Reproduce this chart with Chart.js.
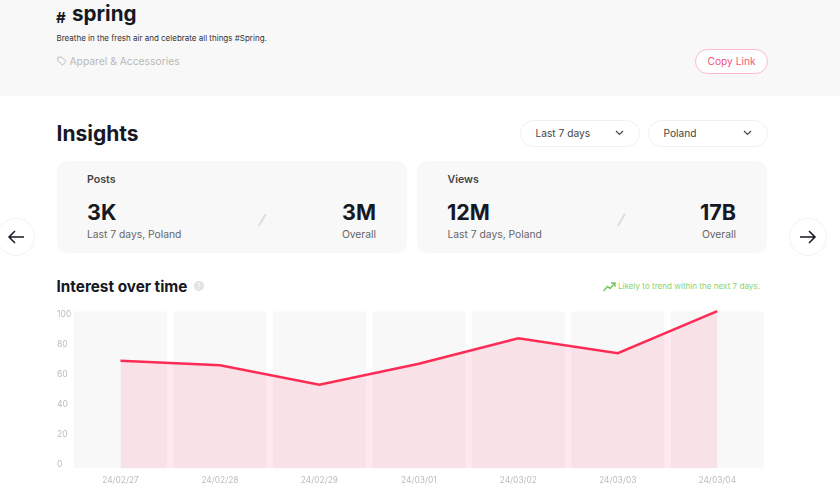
<!DOCTYPE html>
<html>
<head>
<meta charset="utf-8">
<script src="https://cdn.jsdelivr.net/npm/chart.js@4"></script>
<style>
  html, body { margin: 0; padding: 0; background: #fff; }
  body { width: 840px; height: 500px; position: relative; overflow: hidden; font-family: Inter, "Noto Sans", sans-serif; color: #161823; }
  .abs { position: absolute; white-space: nowrap; line-height: 1; }
  .header-band { position: absolute; left: 0; top: 0; width: 840px; height: 96px; background: #f8f8f8; }
  .pill { position: absolute; box-sizing: border-box; background: #fff; border: 1px solid #f0f0f0; border-radius: 14px; }
  .card { position: absolute; top: 161px; width: 350px; height: 92px; background: #f8f8f8; border-radius: 10px; }
  .card-title { font-size: 10.6px; font-weight: 600; color: #444; top: 175px; }
  .big { font-size: 21.5px; font-weight: 700; top: 202px; }
  .small { font-size: 10.3px; color: #666; top: 229px; }
  .round { position: absolute; box-sizing: border-box; top: 218px; width: 38px; height: 38px; border-radius: 50%; background: #fff; border: 1px solid #f3f3f3; }
  svg { position: absolute; overflow: visible; }
  #chartBox { position: absolute; left: 57px; top: 306px; width: 710px; height: 184px; }
</style>
</head>
<body>
<div class="header-band"></div>
<div class="abs" style="left:56px;top:10px;font-size:15px;font-weight:700">#</div>
<div class="abs" style="left:72px;top:4px;font-size:20.6px;font-weight:700">spring</div>
<div class="abs" style="left:56.5px;top:34px;font-size:8px;color:#333">Breathe in the fresh air and celebrate all things #Spring.</div>
<svg style="left:57px;top:56px" width="10" height="10" viewBox="0 0 10 10"><path d="M0.8 1.2 H4.6 L9 5.4 L5.4 9.2 L0.8 4.8 Z" fill="none" stroke="#bbb" stroke-width="1"/></svg>
<div class="abs" style="left:69.5px;top:56px;font-size:10.3px;color:#b8b8b8">Apparel &amp; Accessories</div>

<div class="pill" style="left:695px;top:49px;width:73px;height:25px;border-color:#fbbccb;border-radius:13px"></div>
<div class="abs" style="left:707.5px;top:56px;font-size:10.2px;color:#f0567c">Copy Link</div>

<div class="abs" style="left:56.5px;top:122.5px;font-size:21px;font-weight:700">Insights</div>

<div class="pill" style="left:520px;top:120px;width:120px;height:27px"></div>
<div class="abs" style="left:535.5px;top:128px;font-size:10.2px;color:#444">Last 7 days</div>
<svg style="left:615px;top:130px" width="9" height="6" viewBox="0 0 9 6"><path d="M1 1 L4.5 4.5 L8 1" fill="none" stroke="#444" stroke-width="1.2"/></svg>
<div class="pill" style="left:648px;top:120px;width:120px;height:27px"></div>
<div class="abs" style="left:663.5px;top:128px;font-size:10.2px;color:#444">Poland</div>
<svg style="left:743px;top:130px" width="9" height="6" viewBox="0 0 9 6"><path d="M1 1 L4.5 4.5 L8 1" fill="none" stroke="#444" stroke-width="1.2"/></svg>

<div class="card" style="left:57px"></div>
<div class="abs card-title" style="left:87px">Posts</div>
<div class="abs big" style="left:87px">3K</div>
<div class="abs small" style="left:87px">Last 7 days, Poland</div>
<svg style="left:258px;top:213px" width="9" height="14" viewBox="0 0 9 14"><path d="M0.8 13 L7.8 1" stroke="#ddd" stroke-width="2"/></svg>
<div class="abs big" style="right:464px">3M</div>
<div class="abs small" style="right:464px">Overall</div>

<div class="card" style="left:417px"></div>
<div class="abs card-title" style="left:447.5px">Views</div>
<div class="abs big" style="left:447px">12M</div>
<div class="abs small" style="left:447.5px">Last 7 days, Poland</div>
<svg style="left:617px;top:213px" width="9" height="14" viewBox="0 0 9 14"><path d="M0.8 13 L7.8 1" stroke="#ddd" stroke-width="2"/></svg>
<div class="abs big" style="right:104px">17B</div>
<div class="abs small" style="right:104px">Overall</div>

<div class="round" style="left:-3px"></div>
<svg style="left:8px;top:230px" width="16" height="14" viewBox="0 0 16 14"><path d="M16 7 H1 M7 1 L1 7 L7 13" fill="none" stroke="#161823" stroke-width="1.5"/></svg>
<div class="round" style="left:789px"></div>
<svg style="left:800px;top:230px" width="16" height="14" viewBox="0 0 16 14"><path d="M0 7 H15 M9 1 L15 7 L9 13" fill="none" stroke="#161823" stroke-width="1.5"/></svg>

<div class="abs" style="left:56.5px;top:278.5px;font-size:15.3px;font-weight:700">Interest over time</div>
<svg style="left:194px;top:281px" width="10" height="10" viewBox="0 0 10 10"><circle cx="5" cy="5" r="5" fill="#e2e2e2"/></svg>
<div class="abs" style="left:197px;top:282.5px;font-size:7px;color:#fff">?</div>
<svg style="left:603px;top:282px" width="13" height="10" viewBox="0 0 13 10"><path d="M0.5 9 L4.5 4.5 L7 6.5 L11.5 1.5 M8 1 H12 V5" fill="none" stroke="#6cc655" stroke-width="1.3"/></svg>
<div class="abs" style="left:618px;top:282px;font-size:8.1px;color:#8ad373">Likely to trend within the next 7 days.</div>

<div id="chartBox"><canvas id="myChart" width="710" height="184"></canvas></div>

<script>
const dateLabels = ["24/02/27", "24/02/28", "24/02/29", "24/03/01", "24/03/02", "24/03/03", "24/03/04"];
const interestValues = [69, 66, 53, 67, 84, 74, 102];
const bandValues = [102, 102, 102, 102, 102, 102, 102];
const yTicks = [0, 20, 40, 60, 80, 100];
const yMin = -2.7;
const yMax = 102;

const canvas = document.querySelector("#myChart");

const data = {
  labels: dateLabels,
  datasets: [
    {
      type: "line",
      data: interestValues,
      borderColor: "#fe2c55",
      borderWidth: 2.5,
      backgroundColor: "rgba(254, 44, 85, 0.1)",
      fill: "start",
      pointRadius: 0,
      tension: 0,
      clip: false,
      order: 0,
    },
    {
      type: "bar",
      data: bandValues,
      base: yMin,
      backgroundColor: "#f8f8f8",
      barPercentage: 0.935,
      categoryPercentage: 1,
      order: 1,
    },
  ],
};

const config = {
  data: data,
  options: {
    responsive: false,
    animation: false,
    layout: { padding: { top: 1 } },
    plugins: {
      legend: { display: false },
      tooltip: { enabled: false },
    },
    scales: {
      x: {
        grid: { display: false },
        border: { display: false },
        afterFit: (scale) => {
          scale.height = 21.5;
        },
        ticks: {
          color: "#bcbcbc",
          font: { family: "Inter", size: 8.4 },
          padding: -1,
          maxRotation: 0,
          autoSkip: false,
        },
      },
      y: {
        min: yMin,
        max: yMax,
        grid: { display: false },
        border: { display: false },
        afterBuildTicks: (scale) => {
          scale.ticks = yTicks.map((v) => ({ value: v }));
        },
        afterFit: (scale) => {
          scale.width = 13.75;
        },
        ticks: {
          color: "#bcbcbc",
          font: { family: "Inter", size: 8.6 },
          crossAlign: "far",
          padding: 0,
        },
      },
    },
  },
};

new Chart(canvas, config);
</script>
</body>
</html>
